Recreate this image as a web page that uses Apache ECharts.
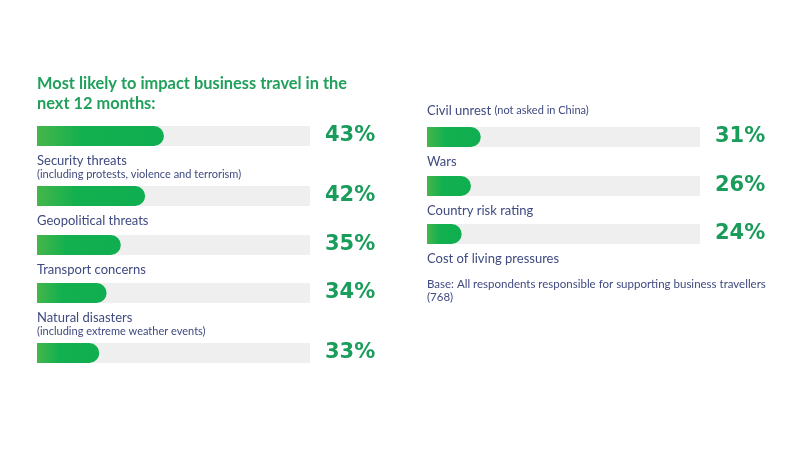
<!DOCTYPE html>
<html>
<head>
<meta charset="utf-8">
<script src="https://cdn.jsdelivr.net/npm/echarts@6/dist/echarts.min.js"></script>
<style>
  html, body { margin: 0; padding: 0; background: #fff; }
  #main { width: 800px; height: 464px; }
</style>
</head>
<body>
<div id="main"></div>
<script>
// risk categories, in the order shown
var names = ['Security threats', 'Geopolitical threats', 'Transport concerns', 'Natural disasters',
  'Civil unrest', 'Wars', 'Country risk rating', 'Cost of living pressures'];
var notes = ['(including protests, violence and terrorism)', '', '', '(including extreme weather events)',
  '(not asked in China)', '', '', ''];
// printed percentages
var pct = [43, 42, 35, 34, 33, 31, 26, 24];
// fill length of each bar, % of the grey track (as drawn)
var fill = [46.5, 39.6, 30.7, 25.5, 22.8, 19.7, 16.1, 12.7];

var titleText = 'Most likely to impact business travel in the\nnext 12 months:';
var baseText = 'Base: All respondents responsible for supporting business travellers\n(768)';

var navy = '#3f4a80';
var green = '#1a9c5b';
var font = 'Lato, "Open Sans", sans-serif';

// layout: left column 5 bars, right column 3 bars
var trackW = 273, barH = 20;
var lefts = [37, 37, 37, 37, 37, 427, 427, 427];
var tops = [126, 186, 235, 283, 343, 127, 176, 224];

var dom = document.getElementById('main');
var myChart = echarts.init(dom, null, { renderer: 'canvas' });

var grids = [], xAxes = [], yAxes = [], series = [];
for (var i = 0; i < names.length; i++) {
  grids.push({ left: lefts[i], top: tops[i], width: trackW, height: barH });
  xAxes.push({ gridIndex: i, type: 'value', min: 0, max: 100, show: false });
  yAxes.push({ gridIndex: i, type: 'category', data: [names[i]], show: false });

  // grey track, carries the percentage label
  series.push({
    type: 'bar',
    xAxisIndex: i, yAxisIndex: i,
    barWidth: barH,
    silent: true,
    itemStyle: { color: '#efefef' },
    label: {
      show: true,
      position: 'right',
      distance: 15,
      formatter: pct[i] + '%',
      color: green,
      fontFamily: '"DejaVu Sans", sans-serif',
      fontWeight: 'bold',
      fontSize: 21
    },
    data: [100]
  });

  // green fill, carries the name below (civil unrest is shown in the right column)
  var nameLabel = i === 4 ? { show: false } : {
    show: true,
    position: [0, barH + 8],
    align: 'left',
    verticalAlign: 'top',
    formatter: notes[i] ? '{n|' + names[i] + '}\n{s|' + notes[i] + '}' : '{n|' + names[i] + '}',
    rich: {
      n: { fontFamily: font, fontSize: 13, color: navy, lineHeight: 14 },
      s: { fontFamily: font, fontSize: 11, color: navy, lineHeight: 13 }
    }
  };
  series.push({
    type: 'bar',
    xAxisIndex: i, yAxisIndex: i,
    barWidth: barH,
    barGap: '-100%',
    silent: true,
    itemStyle: {
      borderRadius: [0, 10, 10, 0],
      color: new echarts.graphic.LinearGradient(0, 0, 1, 0, [
        { offset: 0, color: '#46b64a' },
        { offset: 0.35, color: '#13b04f' },
        { offset: 1, color: '#0fae50' }
      ])
    },
    label: nameLabel,
    data: [fill[i]]
  });
}

var option = {
  animation: false,
  grid: grids,
  xAxis: xAxes,
  yAxis: yAxes,
  series: series,
  graphic: [
    {
      type: 'text', left: 37, top: 74,
      style: { text: titleText, fill: '#21a05c', font: 'bold 16.4px ' + font, lineHeight: 20 }
    },
    {
      type: 'text', left: 427, top: 104,
      style: {
        text: '{n|' + names[4] + '} {s|' + notes[4] + '}',
        rich: {
          n: { fontFamily: font, fontSize: 13, fill: navy },
          s: { fontFamily: font, fontSize: 11, fill: navy }
        }
      }
    },
    {
      type: 'text', left: 427, top: 278,
      style: { text: baseText, fill: navy, font: '11.5px ' + font, lineHeight: 13 }
    }
  ]
};

if (option && typeof option === 'object') {
  myChart.setOption(option, true);
}
</script>
</body>
</html>
